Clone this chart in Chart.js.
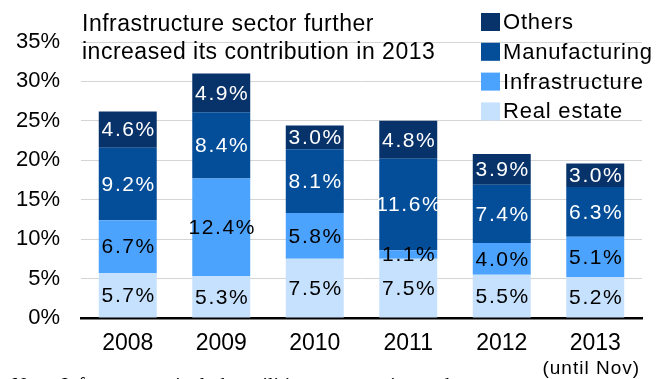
<!DOCTYPE html>
<html>
<head>
<meta charset="utf-8">
<script src="https://cdn.jsdelivr.net/npm/chart.js@4"></script>
<style>
  html, body { margin: 0; padding: 0; background: #fff; overflow: hidden; }
  #wrap { position: relative; width: 657px; height: 379px; }
</style>
</head>
<body>
<div id="wrap"><canvas id="loanChart" width="657" height="379"></canvas></div>
<script>
// Años y etiqueta secundaria bajo el eje
const years = ['2008', '2009', '2010', '2011', '2012', '2013'];
const yearNotes = ['', '', '', '', '', '(until Nov)'];

// Contribución por sector (%)
const realEstate = [5.7, 5.3, 7.5, 7.5, 5.5, 5.2];
const infrastructure = [6.7, 12.4, 5.8, 1.1, 4.0, 5.1];
const manufacturing = [9.2, 8.4, 8.1, 11.6, 7.4, 6.3];
const others = [4.6, 4.9, 3.0, 4.8, 3.9, 3.0];

const yTicks = [0, 5, 10, 15, 20, 25, 30, 35];

const titleLines = ['Infrastructure sector further', 'increased its contribution in 2013'];
const noteText = 'Note: Infrastructure includes utilities, construction and transport';

const FONT = '"Liberation Sans", Arial, sans-serif';

// Etiquetas de valor dentro de cada segmento
const valueLabels = {
    id: 'valueLabels',
    afterDatasetsDraw(chart) {
        const ctx = chart.ctx;
        ctx.save();
        ctx.font = '21px ' + FONT;
        ctx.letterSpacing = '1.6px';
        ctx.textAlign = 'center';
        ctx.textBaseline = 'middle';
        chart.data.datasets.forEach((ds, i) => {
            const meta = chart.getDatasetMeta(i);
            meta.data.forEach((bar, j) => {
                const p = bar.getCenterPoint();
                ctx.fillStyle = ds.labelColor;
                ctx.fillText(ds.data[j].toFixed(1) + '%', p.x + 1, p.y + 1);
            });
        });
        ctx.restore();
    }
};

// Título, leyenda, nota del año y nota al pie
const extras = {
    id: 'extras',
    afterDraw(chart) {
        const ctx = chart.ctx;
        const x = chart.scales.x;
        ctx.save();
        ctx.fillStyle = '#000';
        ctx.textAlign = 'left';
        ctx.textBaseline = 'alphabetic';

        ctx.font = '23px ' + FONT;
        ctx.letterSpacing = '0.5px';
        ctx.fillText(titleLines[0], 82, 31);
        ctx.fillText(titleLines[1], 82, 59);

        // leyenda en orden inverso (Others arriba)
        ctx.font = '22px ' + FONT;
        ctx.letterSpacing = '0.8px';
        const order = chart.data.datasets.slice().reverse();
        order.forEach((ds, k) => {
            const top = 13 + k * 29.8;
            ctx.fillStyle = ds.backgroundColor;
            ctx.fillRect(481, top, 19, 18);
            ctx.fillStyle = '#000';
            ctx.fillText(ds.label, 503, top + 16);
        });

        ctx.font = '19px ' + FONT;
        ctx.letterSpacing = '1px';
        ctx.textAlign = 'center';
        yearNotes.forEach((t, i) => {
            if (t) ctx.fillText(t, x.getPixelForValue(i) - 4, 374);
        });

        // nota al pie, recortada por el borde inferior
        ctx.font = '20px "Liberation Serif", "Times New Roman", serif';
        ctx.letterSpacing = '0px';
        ctx.textAlign = 'left';
        ctx.fillText(noteText, 12, 392);
        ctx.restore();
    }
};

new Chart(document.getElementById('loanChart'), {
    type: 'bar',
    data: {
        labels: years,
        datasets: [
            { label: 'Real estate', data: realEstate, backgroundColor: '#c5e1fd', labelColor: '#000' },
            { label: 'Infrastructure', data: infrastructure, backgroundColor: '#4ca3fe', labelColor: '#000' },
            { label: 'Manufacturing', data: manufacturing, backgroundColor: '#034d99', labelColor: '#fff' },
            { label: 'Others', data: others, backgroundColor: '#08336a', labelColor: '#fff' }
        ]
    },
    options: {
        responsive: false,
        animation: false,
        devicePixelRatio: 1,
        layout: { padding: { top: 42, right: 15, left: 0, bottom: 0 } },
        datasets: {
            bar: { barPercentage: 0.62, categoryPercentage: 1, borderWidth: 0 }
        },
        plugins: {
            legend: { display: false },
            tooltip: { enabled: false },
            title: { display: false }
        },
        scales: {
            x: {
                stacked: true,
                grid: { display: false, drawTicks: false },
                border: { display: true, color: '#000', width: 2.5 },
                ticks: {
                    color: '#000',
                    padding: 12,
                    maxRotation: 0,
                    font: { family: FONT, size: 23 }
                },
                afterFit(scale) { scale.height = 61; }
            },
            y: {
                stacked: true,
                min: 0,
                max: 35,
                afterBuildTicks(scale) { scale.ticks = yTicks.map(v => ({ value: v })); },
                grid: { color: '#d4d4d4', lineWidth: 1, drawTicks: false },
                border: { display: false },
                ticks: {
                    color: '#000',
                    padding: 21,
                    font: { family: FONT, size: 22 },
                    callback: v => v + '%'
                },
                afterFit(scale) { scale.width = 81; }
            }
        }
    },
    plugins: [valueLabels, extras]
});
</script>
</body>
</html>
